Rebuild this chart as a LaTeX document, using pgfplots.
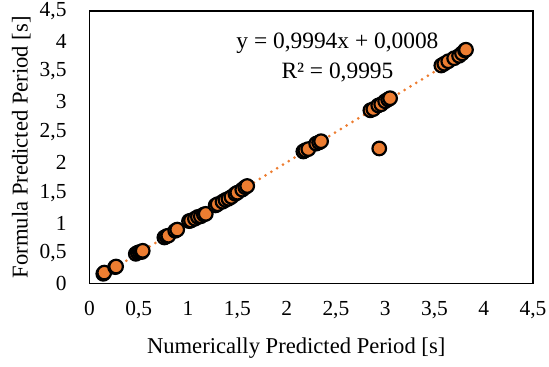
\documentclass[border=0pt]{standalone}
\usepackage{fontspec}
\setmainfont{Liberation Serif}
\usepackage{pgfplots}
\pgfplotsset{compat=1.18}
\definecolor{exorange}{HTML}{ED7D31}
\begin{document}
\begin{tikzpicture}
\path[use as bounding box] (-89.5bp,-83.5bp) rectangle (459.5bp,272.5bp+11bp);
\begin{axis}[
  at={(0,0)}, anchor=south west,
  scale only axis,
  width=443.5bp, height=272.5bp,
  xmin=0, xmax=4.5, ymin=0, ymax=4.5,
  xtick={0,0.5,...,4.5}, ytick={0,0.5,...,4.5},
  major tick length=0pt,
  axis line style={black, line width=1.6bp},
  /pgf/number format/use comma,
  /pgf/number format/assume math mode=true,
  ticklabel style={font=\fontsize{21.5}{25}\selectfont},
  yticklabel style={xshift=-19.5bp},
  xticklabel style={yshift=-14bp},
  xlabel={Numerically Predicted Period [s]},
  ylabel={Formula Predicted Period [s]},
  label style={font=\fontsize{22.7}{27}\selectfont},
  xlabel style={at={(axis description cs:0.466,-0.256)}, anchor=base},
  ylabel style={at={(axis description cs:-0.154,0.5)}, anchor=center},
  clip=false,
]
\addplot[only marks, mark=*, mark size=6.8bp,
  mark options={fill=exorange, draw=black, line width=2.2bp}]
coordinates {
(0.14,0.16) (0.15,0.18) (0.26,0.27) (0.27,0.28)
(0.47,0.49) (0.49,0.51) (0.51,0.52) (0.53,0.52) (0.54,0.54)
(0.76,0.76) (0.78,0.78) (0.80,0.79) (0.87,0.87) (0.89,0.89)
(1.01,1.03) (1.03,1.04) (1.07,1.07) (1.10,1.10) (1.13,1.11) (1.16,1.14) (1.18,1.15)
(1.28,1.29) (1.30,1.31) (1.35,1.35) (1.38,1.38) (1.41,1.40) (1.44,1.43)
(1.48,1.48) (1.50,1.50) (1.55,1.55) (1.58,1.59) (1.60,1.61)
(2.17,2.18) (2.19,2.20) (2.22,2.22) (2.30,2.31) (2.33,2.33) (2.35,2.35)
(2.85,2.86) (2.88,2.88) (2.93,2.94) (2.96,2.96) (3.00,3.01) (3.03,3.04) (3.05,3.06)
(2.94,2.23)
(3.57,3.60) (3.60,3.63) (3.64,3.67) (3.70,3.72) (3.75,3.76) (3.78,3.80) (3.81,3.85) (3.82,3.86)
};
\addplot[exorange, line width=3bp, line cap=round, dash pattern=on 0pt off 6.8bp]
coordinates {(0.14,0.14072) (3.82,3.81851)};
\node[font=\fontsize{23.5}{27}\selectfont] at (axis cs:2.516,3.97) {y = 0,9994x + 0,0008};
\node[font=\fontsize{23.5}{27}\selectfont] at (axis cs:2.516,3.49) {R² = 0,9995};
\end{axis}
\end{tikzpicture}
\end{document}
